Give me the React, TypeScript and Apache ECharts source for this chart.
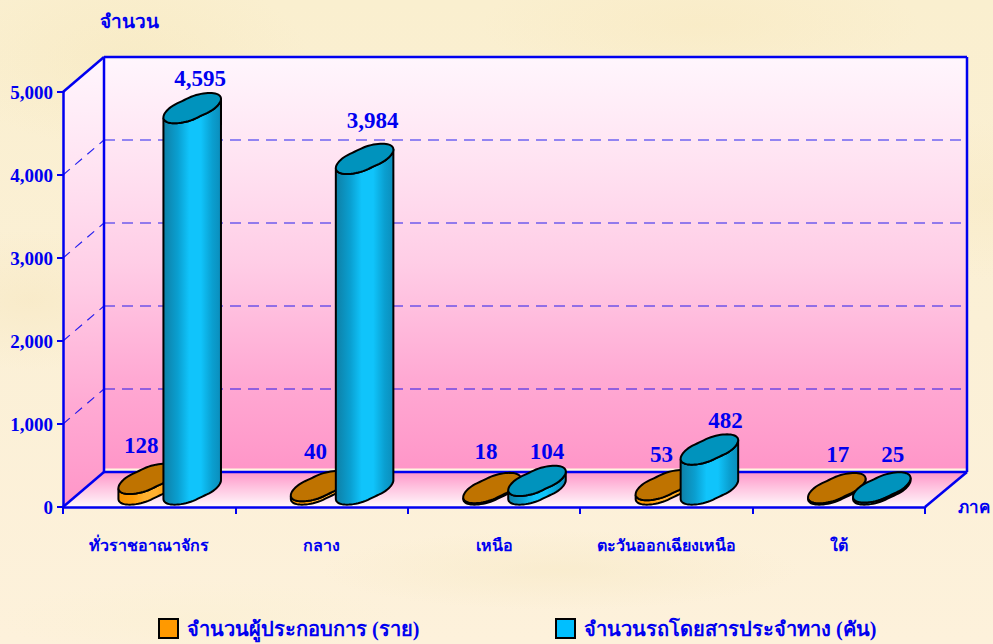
import React, { useEffect, useRef } from "react";
import * as echarts from "echarts";

const categories = ["ทั่วราชอาณาจักร", "กลาง", "เหนือ", "ตะวันออกเฉียงเหนือ", "ใต้"];
const operators = [128, 40, 18, 53, 17];
const vehicles = [4595, 3984, 104, 482, 25];
const operatorName = "จำนวนผู้ประกอบการ (ราย)";
const vehicleName = "จำนวนรถโดยสารประจำทาง (คัน)";
const yTicks = [1000, 2000, 3000, 4000, 5000];
const operatorNudge = [[-6, -33], [-4, -35], [-6, -37], [-3, -31], [1, -34]];
const vehicleNudge = [[8, -30], [8, -38], [10, -29], [16, -29], [11, -33]];

const BLUE = "#0000F0";
const DX = 41;
const DY = 35;
const SERIF = "'Liberation Serif', 'Noto Sans', serif";

function blob(cx: number, cy: number) {
  const pts: number[][] = [];
  const a = 22.5, b = 17.5, c = 15;
  const notchA = (148 / 180) * Math.PI;
  const notchB = (328 / 180) * Math.PI;
  const dist = (t: number, n: number) => {
    const d = Math.abs(t - n);
    return Math.min(d, Math.PI * 2 - d);
  };
  for (let i = 0; i < 72; i++) {
    const t = (i / 72) * Math.PI * 2;
    const r =
      1.01 -
      0.07 * Math.exp(-Math.pow(dist(t, notchA) / 0.3, 2)) -
      0.07 * Math.exp(-Math.pow(dist(t, notchB) / 0.3, 2));
    const u = Math.cos(t) * r, v = Math.sin(t) * r;
    pts.push([cx + u * a + v * b, cy - v * c]);
  }
  return pts;
}

function stripes(dark: string, mid: string, bright: string, edge: string) {
  return new echarts.graphic.LinearGradient(0, 0, 1, 0, [
    { offset: 0, color: dark },
    { offset: 0.25, color: mid },
    { offset: 0.45, color: bright },
    { offset: 0.65, color: bright },
    { offset: 0.85, color: mid },
    { offset: 1, color: edge },
  ]);
}

function barRenderer(offset: number, nudges: number[][], side: () => any, top: string) {
  return (_params: any, api: any) => {
    const i = api.value(0);
    const val = api.value(1);
    const p0 = api.coord([i, 0]);
    const p1 = api.coord([i, val]);
    const cx = p0[0] + offset + DX / 2;
    const base = p0[1] - DY / 2;
    const cy = p1[1] - DY / 2;
    const topPts = blob(cx, cy);
    const botPts = blob(cx, base);
    let li = 0, ri = 0;
    botPts.forEach((q, k) => {
      if (q[0] < botPts[li][0]) li = k;
      if (q[0] > botPts[ri][0]) ri = k;
    });
    const sidePts: number[][] = [topPts[ri]];
    for (let k = ri; ; k = (k + 71) % 72) {
      sidePts.push(botPts[k]);
      if (k === li) break;
    }
    sidePts.push(topPts[li]);
    for (let k = li; ; k = (k + 1) % 72) {
      sidePts.push(topPts[k]);
      if (k === ri) break;
    }
    const n = nudges[i];
    return {
      type: "group",
      children: [
        {
          type: "polygon",
          shape: { points: sidePts },
          style: { fill: side(), stroke: "#000", lineWidth: 2 },
        },
        {
          type: "polygon",
          shape: { points: topPts },
          style: { fill: top, stroke: "#000", lineWidth: 2 },
        },
        {
          type: "text",
          x: cx + n[0],
          y: cy + n[1],
          style: {
            text: Number(val).toLocaleString("en-US"),
            fill: BLUE,
            font: `bold 23px ${SERIF}`,
            align: "center",
            verticalAlign: "middle",
          },
        },
      ],
    };
  };
}

function wallsRenderer(params: any, api: any) {
  const g = params.coordSys;
  const x0 = g.x, x1 = g.x + g.width;
  const y0 = api.coord([0, 0])[1];
  const yT = api.coord([0, 5000])[1];
  const bx0 = x0 + DX, bx1 = x1 + DX + 1;
  const by0 = y0 - DY, byT = yT - DY;
  const wallFill = () =>
    new echarts.graphic.LinearGradient(0, 0, 0, 1, [
      { offset: 0, color: "#FFF6FD" },
      { offset: 0.25, color: "#FFE3F2" },
      { offset: 0.5, color: "#FFCDE6" },
      { offset: 0.78, color: "#FFA9D3" },
      { offset: 1, color: "#FF96C8" },
    ]);
  const line = (a: number[], b: number[], width: number, dash?: number[]) => ({
    type: "line",
    shape: { x1: a[0], y1: a[1], x2: b[0], y2: b[1] },
    style: { stroke: BLUE, lineWidth: width, lineDash: dash, opacity: dash ? 0.85 : 1 },
  });
  const children: any[] = [
    {
      type: "polygon",
      shape: { points: [[bx0, byT], [bx1, byT], [bx1, by0 - 2], [bx0, by0 - 2]] },
      style: { fill: wallFill() },
    },
    {
      type: "polygon",
      shape: { points: [[x0, yT], [bx0, byT], [bx0, by0], [x0, y0]] },
      style: { fill: wallFill() },
    },
    {
      type: "polygon",
      shape: { points: [[bx0, by0], [bx1, by0], [x1, y0], [x0, y0]] },
      style: {
        fill: new echarts.graphic.LinearGradient(0, 0, 0, 1, [
          { offset: 0, color: "#FF96C8" },
          { offset: 0.45, color: "#FFC4E0" },
          { offset: 1, color: "#FFF8FC" },
        ]),
      },
    },
    {
      type: "line",
      shape: { x1: bx0, y1: by0 - 2.5, x2: bx1, y2: by0 - 2.5 },
      style: { stroke: "#FFF6E0", lineWidth: 2 },
    },
  ];
  yTicks.slice(0, 4).forEach((v) => {
    const y = api.coord([0, v])[1];
    children.push(line([x0, y], [bx0, y - DY], 1.2, [9, 7]));
    children.push(line([bx0, y - DY], [bx1, y - DY], 1.2, [11, 7]));
  });
  children.push(
    line([bx0, byT], [bx1, byT], 2.5),
    line([bx0, byT], [bx0, by0], 2.5),
    line([bx1, byT], [bx1, by0], 2.5),
    line([bx0, by0], [bx1, by0], 2.5),
    line([x0, yT], [bx0, byT], 2.5),
    line([x0, y0], [bx0, by0], 2.5),
    line([x1, y0], [bx1, by0], 2.5),
  );
  return { type: "group", children };
}

const paper = [
  "radial-gradient(ellipse 180px 90px at 130px 60px, rgba(244,228,180,.35), transparent)",
  "radial-gradient(ellipse 220px 60px at 700px 25px, rgba(248,232,190,.45), transparent)",
  "radial-gradient(ellipse 140px 70px at 30px 300px, rgba(244,226,180,.35), transparent)",
  "radial-gradient(ellipse 120px 80px at 985px 200px, rgba(246,230,186,.35), transparent)",
  "radial-gradient(ellipse 240px 40px at 560px 570px, rgba(246,232,196,.5), transparent)",
  "radial-gradient(ellipse 200px 40px at 200px 620px, rgba(250,240,210,.5), transparent)",
  "linear-gradient(180deg, #FAEFCF 0%, #FBF0D6 50%, #FDF1DB 100%)",
].join(",");

const legendBase = {
  top: 618,
  padding: 0,
  itemWidth: 19,
  itemHeight: 19,
  selectedMode: false,
  icon: "rect",
  itemStyle: { borderColor: "#000", borderWidth: 2 },
  textStyle: {
    color: BLUE,
    fontFamily: SERIF,
    fontWeight: "bold",
    fontSize: 20,
    padding: [0, 0, 0, 4],
  },
};

export default function App() {
  const ref = useRef<HTMLDivElement>(null);
  useEffect(() => {
    document.body.style.margin = "0";
    const chart = echarts.init(ref.current!, undefined, { renderer: "svg" });
    chart.setOption({
      animation: false,
      backgroundColor: "transparent",
      grid: { left: 63, top: 92, width: 862, height: 415, containLabel: false, outerBoundsMode: "none" },
      legend: [
        { ...legendBase, left: 158, data: [operatorName] },
        { ...legendBase, left: 555, data: [vehicleName] },
      ],
      xAxis: {
        type: "category",
        data: categories,
        z: 3,
        name: "ภาค",
        nameLocation: "end",
        nameGap: 33,
        nameTextStyle: {
          color: BLUE,
          fontFamily: SERIF,
          fontWeight: "bold",
          fontSize: 17,
          padding: [0, 0, 8, 0],
        },
        axisLine: { lineStyle: { color: BLUE, width: 2.5 } },
        axisTick: { show: true, alignWithLabel: false, length: 7, lineStyle: { color: BLUE, width: 2 } },
        axisLabel: {
          color: BLUE,
          fontFamily: SERIF,
          fontWeight: "bold",
          fontSize: 16,
          margin: 30,
          interval: 0,
        },
      },
      yAxis: {
        type: "value",
        min: 0,
        max: 5000,
        interval: 1000,
        z: 3,
        name: "จำนวน",
        nameLocation: "end",
        nameGap: 61,
        nameTextStyle: {
          color: BLUE,
          fontFamily: SERIF,
          fontWeight: "bold",
          fontSize: 19,
          align: "left",
          padding: [0, 0, 0, 37],
        },
        splitLine: { show: false },
        axisLine: { show: true, lineStyle: { color: BLUE, width: 2.5 } },
        axisTick: { show: true, length: 6, lineStyle: { color: BLUE, width: 2 } },
        axisLabel: {
          color: BLUE,
          fontFamily: SERIF,
          fontWeight: "bold",
          fontSize: 19,
          margin: 10,
          formatter: (v: number) => v.toLocaleString("en-US"),
        },
      },
      series: [
        {
          type: "custom",
          name: "walls",
          z: 1,
          silent: true,
          data: [[0, 0]],
          renderItem: wallsRenderer,
        },
        {
          type: "custom",
          name: operatorName,
          z: 4,
          itemStyle: { color: "#FF9900" },
          data: operators.map((v, i) => [i, v]),
          encode: { x: 0, y: 1 },
          renderItem: barRenderer(-22.5, operatorNudge, () => stripes("#F29100", "#FF9C05", "#FFB030", "#E88A00"), "#BF7300"),
        },
        {
          type: "custom",
          name: vehicleName,
          z: 5,
          itemStyle: { color: "#00BFFF" },
          data: vehicles.map((v, i) => [i, v]),
          encode: { x: 0, y: 1 },
          renderItem: barRenderer(22.5, vehicleNudge, () => stripes("#0E7FA6", "#0A9FD0", "#10C4FB", "#0B8DBB"), "#0093BD"),
        },
      ],
    });
    return () => chart.dispose();
  }, []);
  return (
    <div
      ref={ref}
      style={{ position: "fixed", left: 0, top: 0, width: 993, height: 644, background: paper }}
    />
  );
}
